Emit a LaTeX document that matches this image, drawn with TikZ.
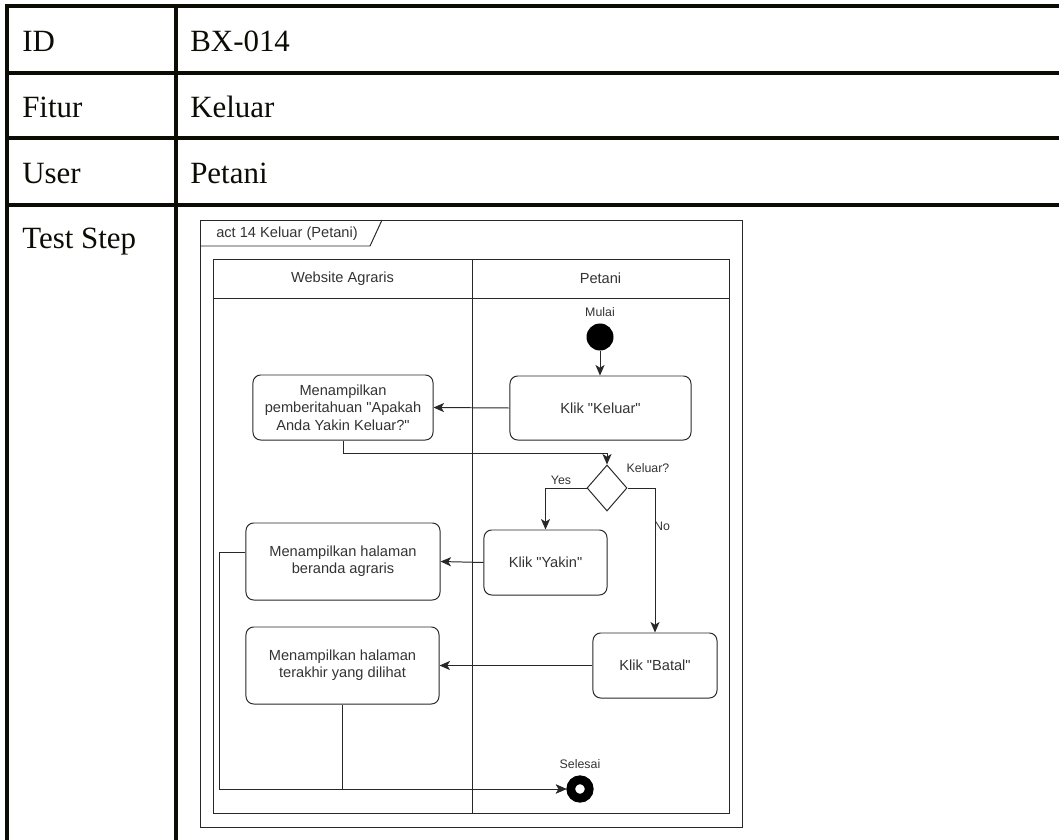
\documentclass[tikz,border=0pt]{standalone}
\usepackage{fontspec}
\setmainfont{Liberation Serif}
\setsansfont{Liberation Sans}[Ligatures=TeXOff]
\usepackage{xcolor}
\usetikzlibrary{arrows.meta, positioning, calc, shapes.geometric}
\definecolor{umlInk}{RGB}{40,40,40}
\definecolor{umlText}{RGB}{51,51,51}
\definecolor{tblInk}{RGB}{12,12,5}

\begin{document}
\begin{tikzpicture}[x=0.025cm,y=-0.025cm,
  tbl/.style={draw=tblInk,line width=2.2pt,line cap=rect},
  cell/.style={anchor=base west,inner sep=0pt,text=tblInk,
               font=\fontsize{22}{26}\selectfont},
  actbox/.style={draw=umlInk,line width=0.7pt,rounded corners=5.5pt,
                 align=center,inner sep=0pt,text=umlText,
                 font=\sffamily\fontsize{10.4}{12.3}\selectfont},
  lbl/.style={inner sep=0pt,text=umlText,
              font=\sffamily\fontsize{8.8}{10}\selectfont},
  wire/.style={draw=umlInk,line width=0.7pt},
  flow/.style={wire,-{Stealth[length=7.5pt,width=6.5pt,inset=2pt]}}]

\useasboundingbox (0,0) rectangle (1059,840);

% table grid
\foreach \ry in {6,73,138,205}
  \draw[tbl] (7,\ry) -- (1059,\ry);
\draw[tbl] (7,6) -- (7,840);
\draw[tbl] (176,6) -- (176,840);

\node[cell] (idKey)    at (22,52)   {ID};
\node[cell] (idVal)    at (190,52)  {BX-014};
\node[cell] (fiturKey) at (22,118)  {Fitur};
\node[cell] (fiturVal) at (190,118) {Keluar};
\node[cell] (userKey)  at (22,184)  {User};
\node[cell] (userVal)  at (190,184) {Petani};
\node[cell] (stepKey)  at (22,248)  {Test Step};

% activity frame and lanes
\draw[wire] (200,220) rectangle (742,827);
\draw[wire] (200,246) -- (370,246) -- (382,220);
\node[lbl,anchor=west,font=\sffamily\fontsize{10.4}{12}\selectfont]
  (frameTitle) at (216,234) {act 14 Keluar (Petani)};

\draw[wire] (213,259) rectangle (729,813);
\draw[wire] (213,298) -- (729,298);
\draw[wire] (472,259) -- (472,813);
\node[lbl,font=\sffamily\fontsize{10.4}{12}\selectfont]
  (laneWeb) at (342.5,278.5) {Website Agraris};
\node[lbl,font=\sffamily\fontsize{10.4}{12}\selectfont]
  (lanePetani) at (600.5,278.5) {Petani};

% nodes
\node[circle,fill=black,minimum size=0.675cm,inner sep=0pt]
  (start) at (600,337) {};
\node[lbl,above=0.15cm of start] (mulaiLbl) {Mulai};

\node[actbox,minimum width=4.525cm,minimum height=1.6cm]
  (keluar) at (600.5,408) {Klik "Keluar"};
\node[actbox,minimum width=4.5cm,minimum height=1.625cm]
  (notif) at (343,407.5) {Menampilkan\\pemberitahuan "Apakah\\Anda Yakin Keluar?"};

\node[diamond,draw=umlInk,line width=0.7pt,inner sep=0pt,
      minimum width=1cm,minimum height=1.15cm]
  (dec) at (607,488) {};
\node[lbl] (decLbl) at (648,468) {Keluar?};
\node[lbl] (yesLbl) at (561,480) {Yes};
\node[lbl] (noLbl)  at (662,526) {No};

\node[actbox,minimum width=3.075cm,minimum height=1.625cm]
  (yakin) at (545.5,562.5) {Klik "Yakin"};
\node[actbox,minimum width=4.85cm,minimum height=1.925cm]
  (beranda) at (343,561.5) {Menampilkan halaman\\beranda agraris};

\node[actbox,minimum width=3.1cm,minimum height=1.625cm]
  (batal) at (655,665.5) {Klik "Batal"};
\node[actbox,minimum width=4.825cm,minimum height=1.925cm]
  (terakhir) at (342.5,665.5) {Menampilkan halaman\\terakhir yang dilihat};

\node[circle,draw=black,line width=0.22cm,minimum size=0.46cm,inner sep=0pt]
  (finish) at (580,789) {};
\node[lbl] (selesaiLbl) at (580,764) {Selesai};

% flows
\coordinate (decIn) at (607,453);
\draw[flow] (start) -- (start |- keluar.north);
\draw[flow] (keluar.west) -- (notif.east);
\draw[flow] (notif.south) |- (decIn) -- (dec.north);
\draw[flow] (dec.west) -| (yakin.north);
\draw[flow] (dec.east) -| (batal.north);
\draw[flow] (yakin.west) -- (beranda.east);
\draw[flow] (batal.west) -- (terakhir.east);
\draw[flow] (terakhir.south) |- (finish.west);
\draw[flow] ($(beranda.west)+(0,-9)$) -- ++(-26,0) |- (finish.west);
\end{tikzpicture}
\end{document}
